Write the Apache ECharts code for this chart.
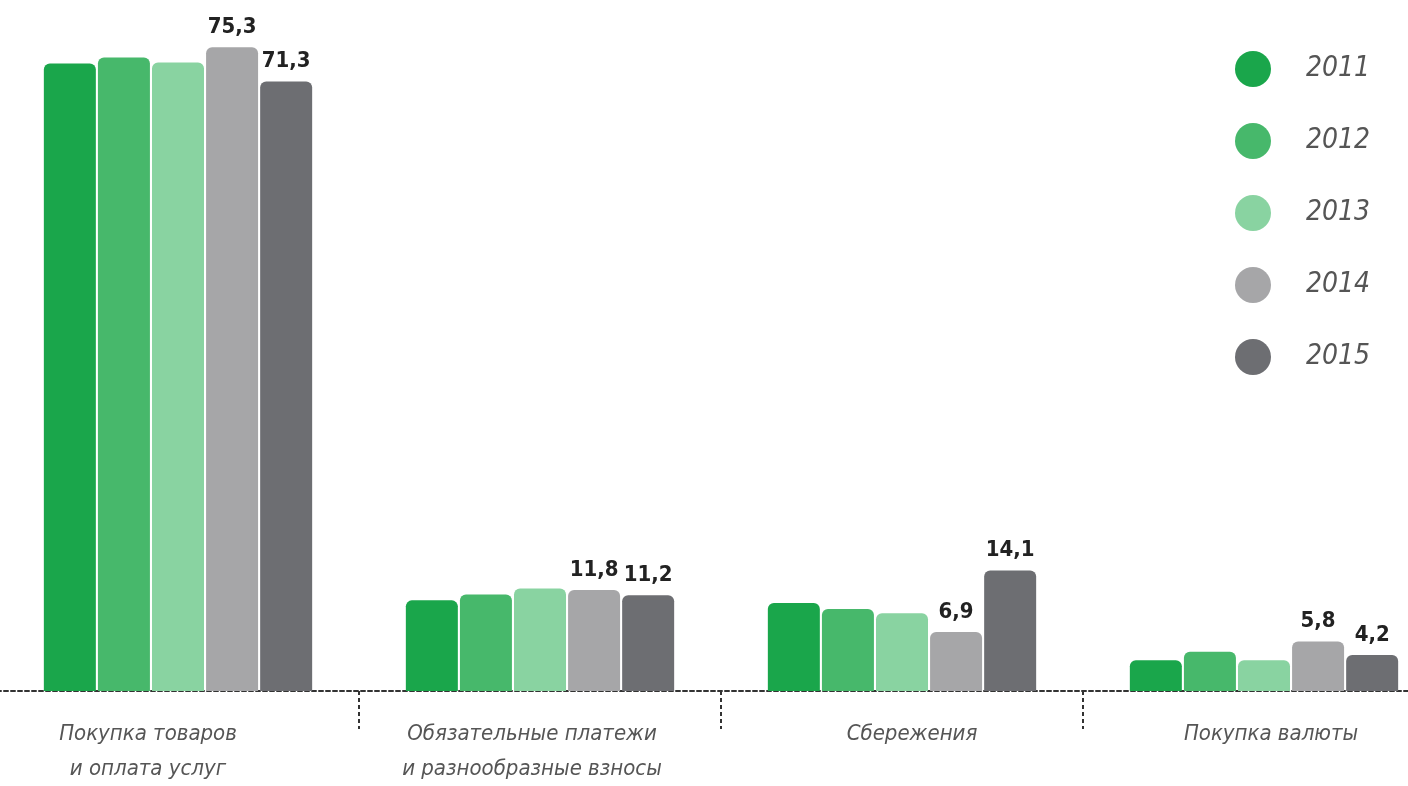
<!DOCTYPE html>
<html>
<head>
<meta charset="utf-8">
<script src="https://cdn.jsdelivr.net/npm/echarts@6/dist/echarts.min.js"></script>
<style>
html,body{margin:0;padding:0;background:#fff;}
#chart{width:1408px;height:786px;}
</style>
</head>
<body>
<div id="chart"></div>
<script>
const categories = ['Покупка товаров\nи оплата услуг', 'Обязательные платежи\nи разнообразные взносы', 'Сбережения', 'Покупка валюты'];
const years = ['2011', '2012', '2013', '2014', '2015'];
const v2011 = [73.4, 10.6, 10.3, 3.6];
const v2012 = [74.1, 11.3, 9.6, 4.6];
const v2013 = [73.5, 12.0, 9.1, 3.6];
const v2014 = [75.3, 11.8, 6.9, 5.8];
const v2015 = [71.3, 11.2, 14.1, 4.2];

const values = [v2011, v2012, v2013, v2014, v2015];
const colors = ['#1aa64b', '#47b86b', '#89d3a1', '#a6a6a8', '#6d6e72'];
const labeled = [false, false, false, true, true];
const FONT = '"DejaVu Sans Condensed", "DejaVu Sans", sans-serif';

const labelPads = [[0,60,0,0],[0,16,0,0],[0,0,0,20],[0,0,0,14]];
const rich = {};
labelPads.forEach((p, i) => {
  rich['c' + i] = {
    fontFamily: FONT, fontStyle: 'italic', fontSize: 22, color: '#555',
    lineHeight: 35, padding: p
  };
});

const chart = echarts.init(document.getElementById('chart'));
chart.setOption({
  animation: false,
  backgroundColor: '#fff',
  color: colors,
  legend: {
    data: years,
    orient: 'vertical',
    left: 1230,
    top: 46,
    icon: 'circle',
    itemWidth: 36,
    itemHeight: 36,
    itemGap: 36,
    textStyle: {
      fontFamily: FONT, fontStyle: 'italic', fontSize: 28, color: '#555',
      padding: [0, 0, 0, 30]
    }
  },
  grid: { left: -3, width: 1448, top: 7, bottom: 95, containLabel: false, outerBoundsMode: 'none' },
  xAxis: {
    type: 'category',
    data: categories,
    axisLine: { show: true, lineStyle: { color: '#333', width: 2, type: [4, 3] } },
    axisTick: { show: true, interval: 0, length: 38, lineStyle: { color: '#333', width: 2, type: [4, 3] } },
    axisLabel: {
      interval: 0,
      margin: 26,
      formatter: function (value, index) {
        return value.split('\n').map(l => '{c' + index + '|' + l + '}').join('\n');
      },
      rich: rich
    }
  },
  yAxis: {
    type: 'value', min: 0, max: 80, show: false,
    splitLine: { show: false }
  },
  series: years.map((y, i) => ({
    name: y,
    type: 'bar',
    data: values[i],
    barWidth: 52,
    barGap: '4%',
    itemStyle: { color: colors[i], borderRadius: [6, 6, 0, 0] },
    label: {
      show: labeled[i],
      position: 'top',
      distance: 9,
      fontFamily: FONT,
      fontWeight: 'bold',
      fontSize: 22,
      color: '#222',
      formatter: p => String(p.value).replace('.', ',')
    }
  }))
});
</script>
</body>
</html>
